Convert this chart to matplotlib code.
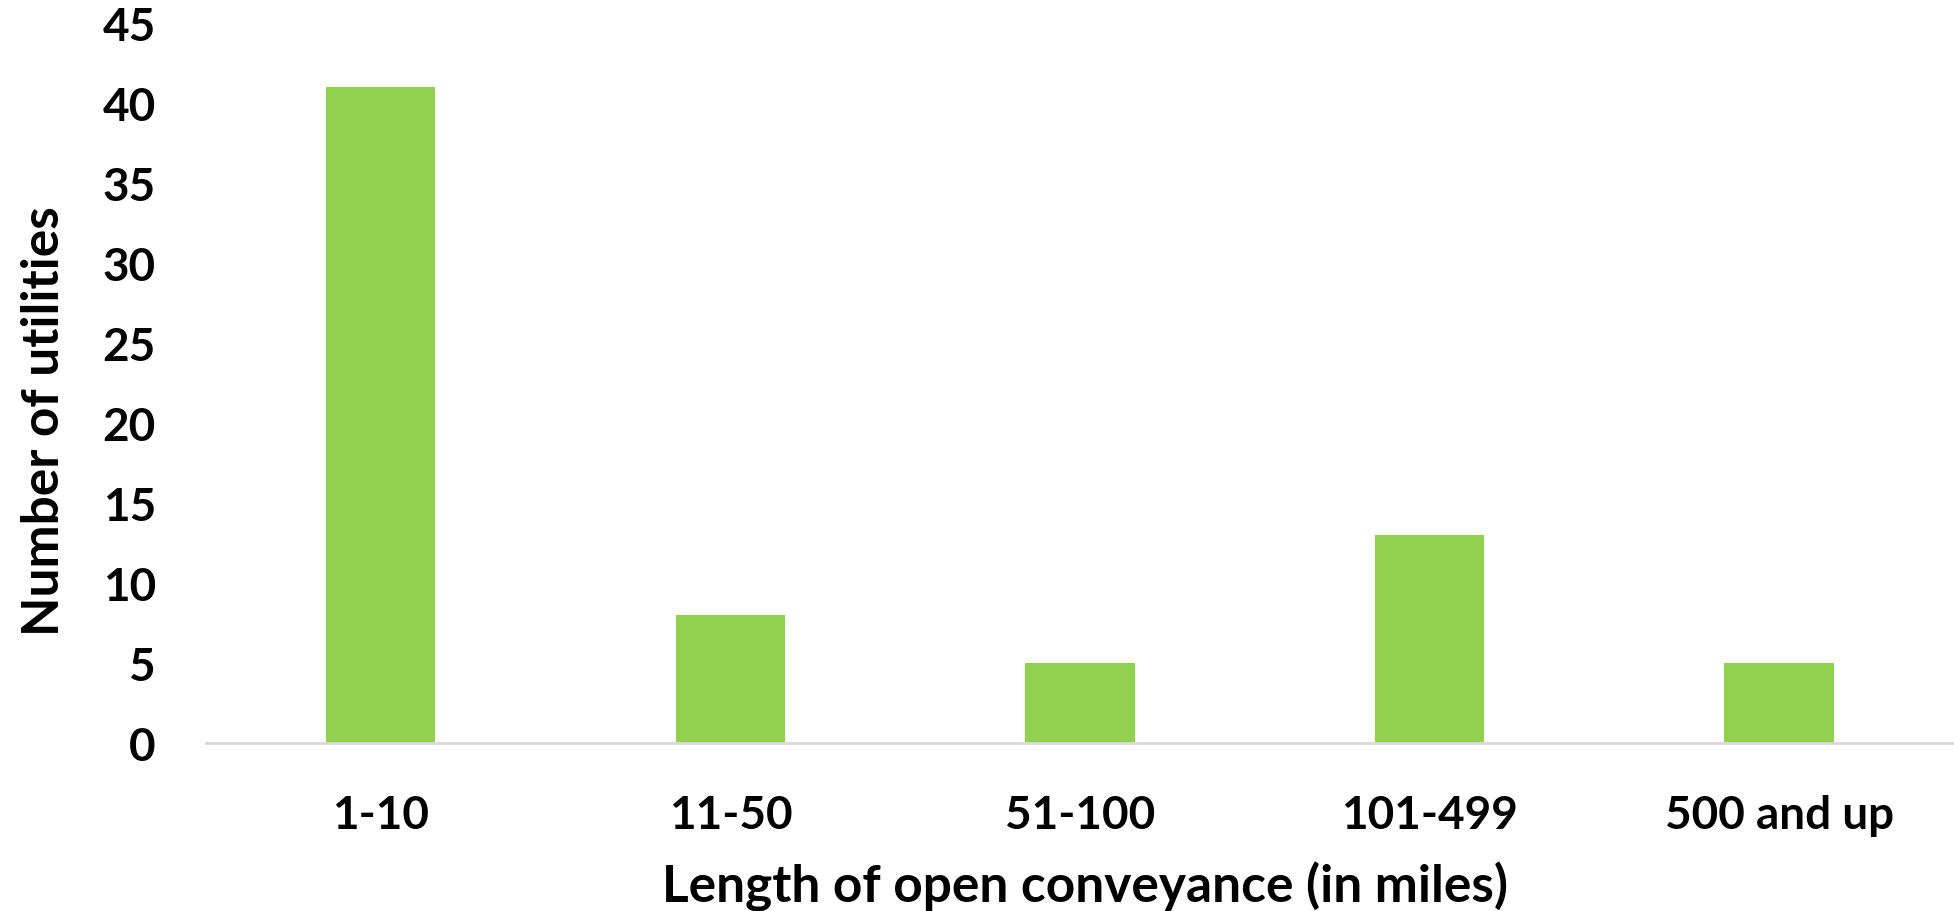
import matplotlib
matplotlib.use('Agg')
from matplotlib import pyplot as plt

categories=['1-10','11-50','51-100','101-499','500 and up']
counts=[41,8,5,13,5]
yticks=[0,5,10,15,20,25,30,35,40,45]

plt.rcParams['font.family']=['Lato','DejaVu Sans']
plt.rcParams['font.weight']='bold'

fig=plt.figure(figsize=[19.54,9.12],dpi=100)
ax=fig.add_axes([0.1054,0.1842,0.8946,0.7895])
ax.bar(range(len(categories)),counts,width=0.313,color='#92d050')
ax.set_xlim(-0.5,len(categories)-0.5)
ax.set_ylim(0,45)
ax.set_yticks(yticks)
ax.set_xticks(range(len(categories)))
ax.set_xticklabels(categories)
for side in ['top','right','left']:
    ax.spines[side].set_visible(False)
ax.spines['bottom'].set_color('#d9d9d9')
ax.spines['bottom'].set_linewidth(2)
ax.tick_params(axis='both',length=0,labelsize=33)
ax.tick_params(axis='y',pad=36)
ax.tick_params(axis='x',pad=37)
ax.set_xlabel('Length of open conveyance (in miles)',fontsize=37,fontweight='bold')
ax.xaxis.set_label_coords(0.503,-0.163)
ax.set_ylabel('Number of utilities',fontsize=37,fontweight='bold')
ax.yaxis.set_label_coords(-0.079,0.449)
fig.savefig('out.png',dpi=100)
